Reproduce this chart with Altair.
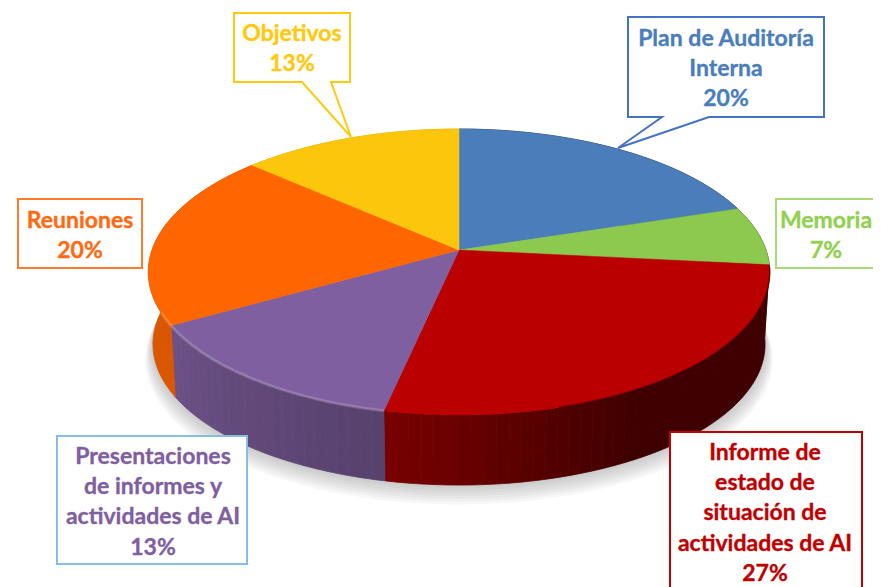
import math
import altair as alt

# ---- chart values ----
CATEGORIES = ["Plan de Auditoría Interna", "Memoria", "Informe de estado de situación de actividades de AI",
              "Presentaciones de informes y actividades de AI", "Reuniones", "Objetivos"]
COUNTS = [3, 1, 4, 2, 3, 2]
LABEL_LINES = [["Plan de Auditoría", "Interna"], ["Memoria"],
               ["Informe de", "estado de", "situación de", "actividades de AI"],
               ["Presentaciones", "de informes y", "actividades de AI"], ["Reuniones"], ["Objetivos"]]
SLICE_COLORS = ["#4a7dba", "#8cc94e", "#bb0000", "#7f5f9f", "#ff6600", "#fcc60c"]
TEXT_COLORS = ["#4a7ebb", "#92d050", "#c00000", "#7f5f9f", "#ff6a10", "#ffc90e"]
BORDER_COLORS = ["#4472c4", "#a5dc78", "#c00000", "#85bde4", "#ff7a2a", "#ffc90e"]

# ---- layout (reference pixels) ----
AX, AY = 459.0, 250.0          # pie apex
F, G, K = 307.0, 139.6, 0.154  # perspective disc
WALL_DY, WALL_S = 72.5, 0.985
BOXES = [(628, 17, 824, 117), (776, 199, 900, 268), (670, 432, 862, 600),
         (57, 436, 247, 564), (18, 199, 142, 268), (234, 13, 350, 82)]
TAILS = {0: [(709, 117), (618, 148), (662, 117)], 5: [(331, 82), (351, 137), (302, 82)]}
TEXT_POS = [(726, 39), (826, 221), (765, 453), (153, 457), (80, 221), (292, 34)]
LINE_H = 30.2
FONT = "Lato"
FONT_SIZE = 23


def rim(deg, s=1.0, dy=0.0):
    t = math.radians(deg)
    u, v = math.sin(t), -math.cos(t)
    d = 1 - K * v
    return [AX + s * F * u / d, AY + dy + s * G * v / d]


def feat(kind, coords, **props):
    return {"type": "Feature", "properties": props, "geometry": {"type": kind, "coordinates": coords}}


def mix(hex_color, f):
    r, g, b = [int(hex_color[i:i + 2], 16) for i in (1, 3, 5)]
    return "#%02x%02x%02x" % (round(r * f), round(g * f), round(b * f))


def wall_shade(deg):
    if deg < 150:
        return 0.33
    if deg < 192:
        return 0.33 + (deg - 150) / 42 * 0.32
    if deg < 240:
        return 0.68 + (deg - 192) / 48 * 0.17
    return 0.85


def wall_span(angles, color):
    top = [rim(x) for x in angles]
    bottom = [rim(x, WALL_S, WALL_DY) for x in reversed(angles)]
    return feat("Polygon", [top + bottom + [top[0]]], color=color)


total = sum(COUNTS)
starts, cum = [], 0
for c in COUNTS:
    starts.append(cum / total * 360)
    cum += c
ends = starts[1:] + [360.0]

tops, walls = [], []
for i, (a, b) in enumerate(zip(starts, ends)):
    n = int(b - a)
    angles = [a + (b - a) * j / n for j in range(n + 1)]
    tops.append(feat("Polygon", [[[AX, AY]] + [rim(x) for x in angles] + [[AX, AY]]], color=SLICE_COLORS[i]))
    # wall bands of about 2 degrees, one band where the shade does not change
    span = [angles[0]]
    span_color = None
    for p, q in zip(angles[:-1], angles[1:]):
        band = int(((p + q) / 2) // 2) * 2 + 1
        color = mix(SLICE_COLORS[i], wall_shade(band))
        if span_color is not None and color != span_color:
            walls.append(wall_span(span, span_color))
            span = [p]
        span.append(q)
        span_color = color
    walls.append(wall_span(span, span_color))

shadows = []
for j in range(1, 8):
    ring = [rim(x, WALL_S * (1 + 0.0035 * j), WALL_DY + 2.2 * j) for x in range(0, 361, 2)]
    shadows.append(feat("Polygon", [ring], color="#666666"))

boxes = []
for i, (x0, y0, x1, y1) in enumerate(BOXES):
    tail = TAILS.get(i, [])
    ring = [[x0, y0], [x1, y0], [x1, y1]] + [list(p) for p in tail] + [[x0, y1], [x0, y0]]
    boxes.append(feat("Polygon", [ring], color=BORDER_COLORS[i]))

texts = []
for i, lines in enumerate(LABEL_LINES):
    x, y = TEXT_POS[i]
    pct = "%d%%" % round(COUNTS[i] / total * 100)
    for k, line in enumerate(lines + [pct]):
        texts.append({"lon": x, "lat": y + k * LINE_H, "label": line, "color": TEXT_COLORS[i]})

highlight = [feat("LineString", [rim(x) for x in range(192, 246)], color="#ffffff")]
rim_dark = [feat("LineString", [rim(x) for x in range(97, 165)], color="#300000")]


def shapes(features, **mark):
    return alt.Chart(alt.Data(values=features)).mark_geoshape(**mark).project(
        type="identity", scale=1, translate=[-8, -8])


shadow_layer = shapes(shadows, opacity=0.055, strokeWidth=0).encode(fill=alt.Fill("properties.color:N", scale=None))
wall_layer = shapes(walls, strokeWidth=0.8).encode(
    fill=alt.Fill("properties.color:N", scale=None), stroke=alt.Stroke("properties.color:N", scale=None))
top_layer = shapes(tops, strokeWidth=0.5).encode(
    fill=alt.Fill("properties.color:N", scale=None), stroke=alt.Stroke("properties.color:N", scale=None))
hi_layer = shapes(highlight, filled=False, strokeWidth=3, opacity=0.18, stroke="#ffffff")
dark_layer = shapes(rim_dark, filled=False, strokeWidth=1.5, opacity=0.5, stroke="#300000")
box_layer = shapes(boxes, fill="#ffffff", strokeWidth=2).encode(stroke=alt.Stroke("properties.color:N", scale=None))
text_layer = alt.Chart(alt.Data(values=texts)).mark_text(
    font=FONT, fontSize=FONT_SIZE, fontWeight="bold", align="center", baseline="middle", strokeWidth=0.35
).encode(longitude="lon:Q", latitude="lat:Q", text="label:N",
         color=alt.Color("color:N", scale=None),
         stroke=alt.Stroke("color:N", scale=None)).project(type="identity", scale=1, translate=[-8, -8])

chart = alt.layer(shadow_layer, wall_layer, top_layer, hi_layer, dark_layer, box_layer, text_layer).properties(
    width=865, height=579, padding=0, autosize=alt.AutoSizeParams(type="none")
).configure_view(stroke=None)

chart.save("out.html", embed_options={"renderer": "svg", "actions": False})
